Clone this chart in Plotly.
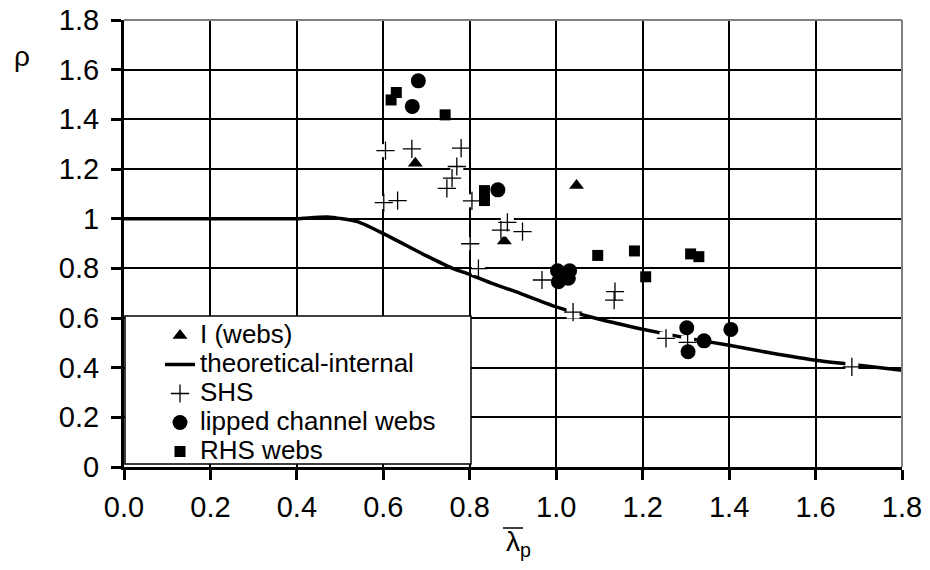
import plotly.graph_objects as go

# ---- data ----
i_webs_x = [0.674, 0.880, 1.047]
i_webs_y = [1.223, 0.910, 1.134]

theory_x = [0.0, 0.1, 0.2, 0.3, 0.4, 0.47, 0.54, 0.6, 0.65, 0.7, 0.76, 0.8, 0.85, 0.9,
            1.0, 1.1, 1.2, 1.3, 1.4, 1.5, 1.6, 1.7, 1.8]
theory_y = [1.0, 1.0, 1.0, 1.0, 1.0, 1.007, 0.988, 0.94, 0.895, 0.85, 0.80, 0.775, 0.74, 0.71,
            0.645, 0.595, 0.555, 0.52, 0.49, 0.458, 0.43, 0.41, 0.39]

shs_x = [0.759, 0.605, 0.666, 0.780, 0.770, 0.747, 0.601, 0.633, 0.805, 0.887, 0.872, 0.922,
         0.801, 0.820, 0.967, 1.136, 1.134, 1.039, 1.254, 1.304, 1.684]
shs_y = [1.163, 1.274, 1.281, 1.284, 1.210, 1.122, 1.065, 1.073, 1.072, 0.985, 0.954, 0.948,
         0.899, 0.799, 0.753, 0.706, 0.672, 0.624, 0.518, 0.502, 0.403]

lipped_x = [0.681, 0.667, 0.865, 1.003, 1.031, 1.028, 1.005, 1.302, 1.305, 1.342, 1.404]
lipped_y = [1.555, 1.452, 1.116, 0.790, 0.790, 0.760, 0.746, 0.561, 0.464, 0.508, 0.554]

rhs_x = [0.630, 0.618, 0.743, 0.834, 0.834, 1.096, 1.181, 1.311, 1.330, 1.207]
rhs_y = [1.508, 1.478, 1.418, 1.113, 1.073, 0.852, 0.870, 0.858, 0.847, 0.766]

x_ticks = [0.0, 0.2, 0.4, 0.6, 0.8, 1.0, 1.2, 1.4, 1.6, 1.8]
y_ticks = [0, 0.2, 0.4, 0.6, 0.8, 1.0, 1.2, 1.4, 1.6, 1.8]
x_tick_text = ["0.0", "0.2", "0.4", "0.6", "0.8", "1.0", "1.2", "1.4", "1.6", "1.8"]
y_tick_text = ["0", "0.2", "0.4", "0.6", "0.8", "1", "1.2", "1.4", "1.6", "1.8"]

FONT = "Liberation Sans, Arial, sans-serif"
LEG = '<span style="font-size:26px">{}</span>'

fig = go.Figure()
fig.add_trace(go.Scatter(x=i_webs_x, y=i_webs_y, mode="markers", name=LEG.format("I (webs)"),
                         marker=dict(symbol="triangle-up", size=13, color="black")))
fig.add_trace(go.Scatter(x=theory_x, y=theory_y, mode="lines", name=LEG.format("theoretical-internal"),
                         line=dict(color="black", width=3.5, shape="spline", smoothing=0.6)))
# white backing boxes of the plus markers
fig.add_trace(go.Scatter(x=shs_x, y=shs_y, mode="markers", showlegend=False, hoverinfo="skip",
                         marker=dict(symbol="square", size=13, color="white", line=dict(width=0))))
fig.add_trace(go.Scatter(x=shs_x, y=shs_y, mode="markers", name=LEG.format("SHS"),
                         marker=dict(symbol="cross-thin", size=13, color="black",
                                     line=dict(color="black", width=1.3))))
fig.add_trace(go.Scatter(x=lipped_x, y=lipped_y, mode="markers", name=LEG.format("lipped channel webs"),
                         marker=dict(symbol="circle", size=15, color="black")))
fig.add_trace(go.Scatter(x=rhs_x, y=rhs_y, mode="markers", name=LEG.format("RHS webs"),
                         marker=dict(symbol="square", size=11, color="black")))

# the page body margin is removed (post_script below), so figure pixels = window pixels
W, H = 930, 570
L, T = 124, 20
R = W - 902
B = H - 467
pw, ph = W - L - R, H - T - B

def px(xs):
    # screen x (reference pixel) -> paper fraction
    return (xs - L) / pw

def py(ys):
    # screen y (reference pixel) -> paper fraction
    return (H - B - ys) / ph

axis_common = dict(showgrid=True, gridcolor="black", gridwidth=2, zeroline=False,
                   showline=True, linecolor="black", linewidth=3, automargin=False,
                   ticks="outside", ticklen=10, tickwidth=3, tickcolor="black",
                   ticklabeloverflow="allow",
                   tickfont=dict(family=FONT, size=29, color="black"))
fig.update_xaxes(range=[0, 1.8], tickvals=x_ticks, ticktext=x_tick_text,
                 ticklabelstandoff=2, **axis_common)
fig.update_yaxes(range=[0, 1.8], tickvals=y_ticks, ticktext=y_tick_text,
                 ticklabelstandoff=6, **axis_common)

fig.update_layout(
    width=W, height=H,
    margin=dict(l=L, r=R, t=T, b=B, pad=0, autoexpand=False),
    paper_bgcolor="white", plot_bgcolor="white",
    font=dict(family=FONT, size=20, color="black"),
    showlegend=True,
    legend=dict(x=px(160), y=py(316), xanchor="left", yanchor="top",
                bgcolor="rgba(0,0,0,0)", borderwidth=0, tracegroupgap=0,
                font=dict(family=FONT, size=20, color="black")),
    shapes=[
        # legend box
        dict(type="rect", xref="paper", yref="paper", x0=px(125), x1=px(471), y0=py(464), y1=py(316),
             fillcolor="white", line=dict(color="black", width=1.5), layer="above"),
        # grey top & right frame
        dict(type="line", xref="paper", yref="paper", x0=0, x1=1, y0=1, y1=1,
             line=dict(color="#808080", width=2), layer="above"),
        dict(type="line", xref="paper", yref="paper", x0=1, x1=1, y0=0, y1=1,
             line=dict(color="#808080", width=2), layer="above"),
        # overbar of lambda
        dict(type="line", xref="paper", yref="paper", x0=px(503), x1=px(523), y0=py(528), y1=py(528),
             line=dict(color="black", width=1.5)),
    ],
    annotations=[
        dict(text="ρ", xref="paper", yref="paper", x=px(22), y=py(56), showarrow=False,
             xanchor="center", yanchor="middle",
             font=dict(family=FONT, size=28, color="black")),
        dict(text="λ<sub>p</sub>", xref="paper", yref="paper", x=px(504), y=py(524), showarrow=False,
             xanchor="left", yanchor="top",
             font=dict(family=FONT, size=28, color="black")),
    ],
)

fig.write_html("out.html", config={"displayModeBar": False},
               post_script="document.body.style.margin='0px';document.body.style.overflow='hidden';")
